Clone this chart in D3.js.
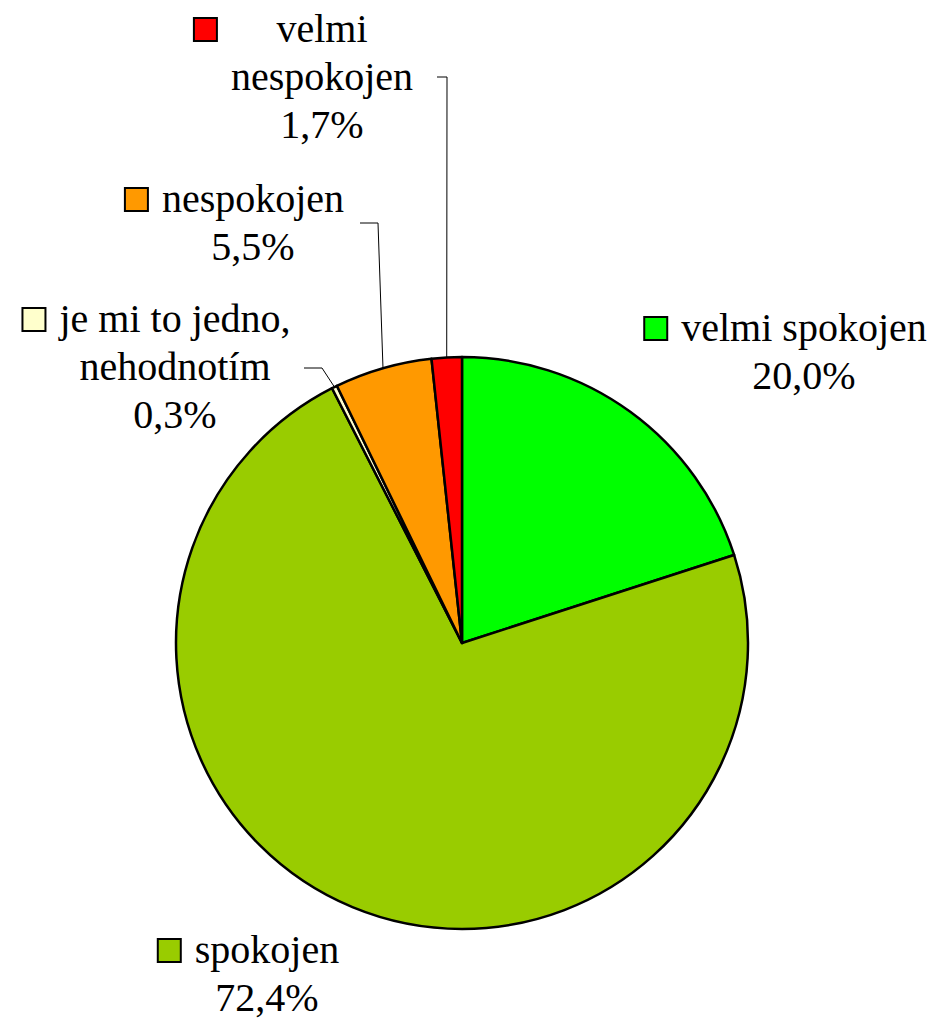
<!DOCTYPE html>
<html>
<head>
<meta charset="utf-8">
<script src="https://cdn.jsdelivr.net/npm/d3@7"></script>
<style>
  body { margin: 0; background: #fff; }
</style>
</head>
<body>
<div id="vis"></div>
<script>
// data, clockwise from 12 o'clock
var categories = ["velmi spokojen", "spokojen", "je mi to jedno, nehodnotím", "nespokojen", "velmi nespokojen"];
var values = [20.0, 72.4, 0.3, 5.5, 1.7];
var valueLabels = ["20,0%", "72,4%", "0,3%", "5,5%", "1,7%"];
var labelLines = [["velmi spokojen"], ["spokojen"], ["je mi to jedno,", "nehodnotím"], ["nespokojen"], ["velmi", "nespokojen"]];
var colors = ["#00ff00", "#99cc00", "#ffffcc", "#ff9900", "#ff0000"];

// label layout (centre x, first baseline, leader elbow + end)
var labelPos = [
	{cx: 804, y: 341, leader: null},
	{cx: 267, y: 963, leader: null},
	{cx: 175, y: 332, leader: [[322, 368], [304, 368]]},
	{cx: 253, y: 212, leader: [[378, 223], [360, 223]]},
	{cx: 322, y: 42,  leader: [[447, 77], [437, 77]]}
];

var width = 938, height = 1020;
var cx = 462, cy = 643, radius = 286;
var lineH = 48;
var fontFam = "'Liberation Serif', 'DejaVu Serif', 'Times New Roman', Times, serif";

var svg = d3.select("#vis")
			.append("svg")
			.attr("width", width)
			.attr("height", height);

var pie = d3.pie().sort(null).value(function(d) { return d; });
var arcs = pie(values);

var arc = d3.arc().innerRadius(0).outerRadius(radius);

var plot = svg.append("g")
			  .attr("transform", "translate(" + cx + "," + cy + ")");

plot.selectAll(".slice")
	.data(arcs)
	.enter()
	.append("path")
	.attr("class", "slice")
	.attr("d", arc)
	.attr("fill", function(d, i) { return colors[i]; })
	.attr("stroke", "#000")
	.attr("stroke-width", 2.5)
	.attr("stroke-linejoin", "round");

// leader lines from arc mid-point
arcs.forEach(function(d, i) {
	var p = labelPos[i];
	if (!p.leader) return;
	var a = (d.startAngle + d.endAngle) / 2;
	var start = [cx + radius * Math.sin(a), cy - radius * Math.cos(a)];
	var pts = [start].concat(p.leader);
	svg.append("path")
	   .attr("d", d3.line()(pts))
	   .attr("fill", "none")
	   .attr("stroke", "#000")
	   .attr("stroke-width", 1);
});

// labels
var labels = svg.selectAll(".label")
				.data(arcs)
				.enter()
				.append("g")
				.attr("class", "label");

labels.each(function(d, i) {
	var g = d3.select(this);
	var p = labelPos[i];
	var lines = labelLines[i].concat([valueLabels[i]]);
	var maxW = 0;
	lines.forEach(function(t, k) {
		var txt = g.append("text")
				   .attr("x", p.cx)
				   .attr("y", p.y + k * lineH)
				   .attr("text-anchor", "middle")
				   .attr("font-family", fontFam)
				   .attr("font-size", 40)
				   .attr("fill", "#000")
				   .style("font-family", fontFam)
				   .text(t);
		if (k < lines.length - 1) maxW = Math.max(maxW, txt.node().getComputedTextLength());
	});
	// legend key left of widest name line
	g.append("rect")
	 .attr("x", p.cx - maxW / 2 - 14 - 23)
	 .attr("y", p.y - 24)
	 .attr("width", 23)
	 .attr("height", 23)
	 .attr("fill", colors[i])
	 .attr("stroke", "#000")
	 .attr("stroke-width", 2);
});
</script>
</body>
</html>
